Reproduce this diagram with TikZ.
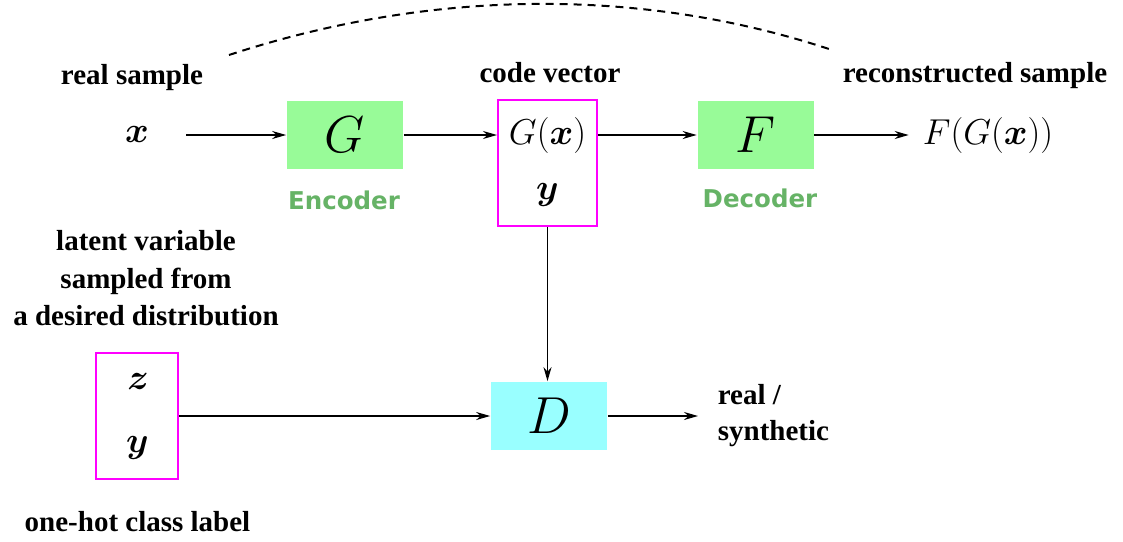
\RequirePackage{fix-cm}
\documentclass[tikz,border=0pt]{standalone}
\usepackage{amsmath,amssymb}
\usepackage[no-math]{fontspec}
\newfontfamily\lblfont{Liberation Serif}
\newfontfamily\blkfont{DejaVu Sans}
\usetikzlibrary{positioning,arrows.meta}
\definecolor{blockgreen}{RGB}{152,251,152}
\definecolor{blockcyan}{RGB}{153,255,255}
\definecolor{namegreen}{RGB}{102,179,102}
\definecolor{vecmagenta}{RGB}{255,0,255}

\begin{document}
\begin{tikzpicture}[x=1pt, y=-1pt,
  block/.style={minimum width=116pt, minimum height=68pt, inner sep=0pt, font=\fontsize{52}{52}\selectfont},
  vec/.style={draw=vecmagenta, line width=2pt, minimum width=99pt, minimum height=126pt},
  lbl/.style={font=\lblfont\bfseries\fontsize{29}{37.5}\selectfont, align=center},
  blkname/.style={font=\blkfont\bfseries\fontsize{24.5}{26}\selectfont, text=namegreen},
  sym/.style={font=\fontsize{36}{40}\selectfont},
  >={Stealth[length=14pt, width=8pt]}, every path/.style={line width=1.7pt}]
\useasboundingbox (0,0) rectangle (1123,541);
% encoder / decoder row
\node[sym] (xin) at (137,134) {$\boldsymbol{x}$};
\node[lbl] (reallbl) at (132,78) {real sample};
\node[block, fill=blockgreen] (enc) at (345,135) {$G$};
\node[blkname] (encname) at (344,200) {Encoder};
\node[vec] (code) at (547.5,163) {};
\node[sym] (gx) at (547.5,135) {$G(\boldsymbol{x})$};
\node[sym] (cy) at (547.5,195) {$\boldsymbol{y}$};
\node[lbl] (codelbl) at (550,73) {code vector};
\node[block, fill=blockgreen] (dec) at (755.5,135) {$F$};
\node[blkname] (decname) at (760,198) {Decoder};
\node[sym] (fgx) at (988,135) {$F(G(\boldsymbol{x}))$};
\node[lbl] (reconlbl) at (975,76) {reconstructed sample};
% prior sample and discriminator
\node[lbl] (latent) at (146,278.5) {latent variable\\sampled from\\a desired distribution};
\node[vec, minimum width=82pt] (zy) at (137,416) {};
\node[sym] (zz) at (138,381.5) {$\boldsymbol{z}$};
\node[sym] (zyy) at (137.5,447.5) {$\boldsymbol{y}$};
\node[lbl] (onehot) at (137.5,522) {one-hot class label};
\node[block, fill=blockcyan] (disc) at (549,416) {$D$};
\node[lbl, align=left, anchor=west, inner sep=0pt, font=\lblfont\bfseries\fontsize{29}{36}\selectfont] (out) at (717,416) {real /\\synthetic};
\draw[->, shorten <=33pt] (xin.east |- enc.west) -- (enc.west);
\draw[->] (enc.east) -- (enc.east -| code.west);
\draw[->] (code.east |- dec.west) -- (dec.west);
\draw[->, shorten >=10pt] (dec.east) -- (fgx.west);
\draw[->] (code.south) -- (code.south |- disc.north);
\draw[->] (zy.east) -- (disc.west);
\draw[->, shorten >=19pt] (disc.east) -- (out.west);
% reconstruction loop
\coordinate (arcl) at (229,55);
\coordinate (arcr) at (829,49);
\draw[dashed, dash pattern=on 8pt off 6pt, line width=2pt] (arcl) .. controls +(195,-64) and +(-195,-64) .. (arcr);
\end{tikzpicture}
\end{document}
